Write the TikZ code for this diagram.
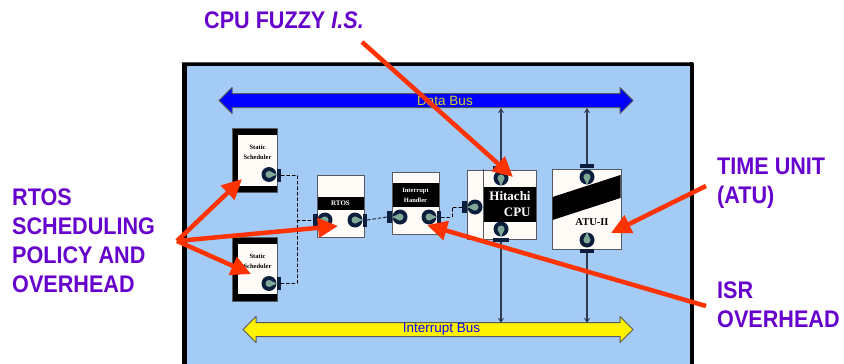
\documentclass[tikz,border=0pt]{standalone}
\usepackage{fontspec}
\setmainfont{Liberation Sans}
\newfontfamily\boxfont{Liberation Serif}
\newfontfamily\callfont[FakeStretch=0.9]{Liberation Sans}
\usetikzlibrary{arrows,arrows.meta}
\usetikzlibrary{shapes.arrows}
\definecolor{callpurple}{HTML}{6600CC}
\definecolor{callred}{HTML}{FF3300}
\definecolor{boardblue}{HTML}{A4CAF6}
\definecolor{boxwhite}{HTML}{FFFCF8}
\definecolor{portnavy}{HTML}{0B1E3E}
\definecolor{portgreen}{HTML}{7FA896}
\definecolor{edgegray}{HTML}{555A60}
\tikzset{
callout/.style={font=\callfont\bfseries\fontsize{24}{29}\selectfont,text=callpurple,anchor=west,inner sep=0pt},
callarrow/.style={-{Triangle[length=20pt,width=19pt]},draw=callred,fill=callred,line width=4.5pt,line cap=butt},
busarrow/.style={double arrow,draw=edgegray,line width=1pt,inner xsep=0pt,inner ysep=6.5pt,minimum width=25pt,double arrow head extend=6pt},
buslabel/.style={font=\fontsize{13.5}{14}\selectfont,inner sep=0pt},
buswire/.style={>={Stealth[length=5pt,width=6pt]},draw=portnavy!70!gray,line width=1.2pt},
sigwire/.style={dashed,dash pattern=on 3pt off 2.5pt,line width=0.8pt,draw=black},
blockbox/.style={draw=edgegray,fill=boxwhite,line width=1pt,inner sep=0pt},
band/.style={fill=black,text=white,inner sep=0pt,align=center,font=\boxfont\bfseries},
smalltext/.style={font=\boxfont\bfseries\fontsize{6.5}{10}\selectfont,align=center,inner sep=0pt},
portdisk/.style={circle,fill=portnavy,inner sep=0pt,minimum size=15pt},
portbar/.style={fill=portnavy,inner sep=0pt}
}
\newcommand{\portpin}[3]{
\node[portdisk] (#1) at (#2) {};
\fill[portgreen,shift={(#2)},rotate=#3] (-3.5,0) arc (180:0:3.5) -- (8,0) -- (3.5,0) arc (0:-180:3.5) -- cycle;
\fill[portgreen,shift={(#2)},rotate=#3] (0,-3.5) -- (8,0) -- (0,3.5) -- cycle;
}
\begin{document}
\begin{tikzpicture}[line cap=round,line join=round,>=triangle 45,x=1pt,y=-1pt]
\clip (0,0) rectangle (844,364);
% board
\node[draw=black,fill=boardblue,line width=4.5pt,minimum width=507.5pt,minimum height=312pt,inner sep=0pt] (board) at (438,220) {};
\draw[edgegray,line width=1pt] (board.north west) ++(0,1) -- ++(507.5,0);
% buses
\node[busarrow,fill=blue,minimum height=414pt] (databus) at (426,100.5) {};
\node[busarrow,fill=yellow,minimum height=390pt] (intbus) at (438,329.5) {};
\node[buslabel,text=yellow!85!black] (databustxt) at (445,100.5) {Data Bus};
\node[buslabel,text=blue] (intbustxt) at (441.5,329.5) {Interrupt Bus};
% schedulers
\node[draw=edgegray,fill=black,minimum width=45pt,minimum height=64pt,inner sep=0pt] (schedA) at (254.5,160) {};
\node[blockbox,draw=none,minimum width=39pt,minimum height=51pt] (schedAin) at (257.5,160.5) {};
\node[smalltext] (schedAtxt) at (257.5,152) {Static\\Scheduler};
\node[draw=edgegray,fill=black,minimum width=45pt,minimum height=64pt,inner sep=0pt] (schedB) at (254.5,269) {};
\node[blockbox,draw=none,minimum width=39pt,minimum height=50pt] (schedBin) at (257.5,269) {};
\node[smalltext] (schedBtxt) at (257.5,261) {Static\\Scheduler};
% rtos
\node[blockbox,minimum width=47pt,minimum height=62pt] (rtos) at (340.5,206) {};
\node[band,minimum width=46pt,minimum height=13pt,font=\boxfont\bfseries\fontsize{7}{8}\selectfont] (rtosband) at (340.5,203.5) {RTOS};
% interrupt handler
\node[blockbox,minimum width=47pt,minimum height=62pt] (inth) at (415.5,203) {};
\node[band,minimum width=46pt,minimum height=24pt,font=\boxfont\bfseries\fontsize{6.5}{10}\selectfont] (inthband) at (415.5,195) {Interrupt\\Handler};
% cpu
\node[blockbox,minimum width=69pt,minimum height=69pt] (cpu) at (501.5,204.5) {};
\draw[edgegray,line width=1pt] (cpu.north west) ++(17,0) -- ++(0,69);
\node[band,minimum width=52pt,minimum height=35pt,align=right,font=\boxfont\bfseries\fontsize{13}{16}\selectfont] (cpuband) at (510,204.5) {Hitachi\\CPU};
% atu
\node[blockbox,minimum width=69pt,minimum height=80pt] (atu) at (586.5,209) {};
\fill[black] (552.5,197) -- (620.5,175) -- (620.5,198) -- (552.5,220) -- cycle;
\node[font=\boxfont\bfseries\fontsize{10.5}{11}\selectfont,inner sep=0pt] (atulabel) at (592,222.5) {ATU-II};
% port bars
\node[portbar,minimum width=4pt,minimum height=13pt] (schedAbar) at (279,175) {};
\node[portbar,minimum width=4pt,minimum height=13pt] (schedBbar) at (279,283.5) {};
\node[portbar,minimum width=5pt,minimum height=12pt] (rtosinbar) at (315.5,220) {};
\node[portbar,minimum width=4pt,minimum height=13pt] (rtosoutbar) at (365,220) {};
\node[portbar,minimum width=5pt,minimum height=12pt] (inthinbar) at (389.5,217) {};
\node[portbar,minimum width=4pt,minimum height=13pt] (inthoutbar) at (439,217) {};
\node[portbar,minimum width=5pt,minimum height=12pt] (cpuinbar) at (464.5,207) {};
\node[portbar,minimum width=16pt,minimum height=4pt] (cputopbar) at (501,168) {};
\node[portbar,minimum width=16pt,minimum height=4pt] (cpubotbar) at (501,240) {};
\node[portbar,minimum width=14pt,minimum height=4pt] (atutopbar) at (587,166) {};
\node[portbar,minimum width=14pt,minimum height=4pt] (atubotbar) at (587,251) {};
% ports
\portpin{schedAport}{269,174.5}{0}
\portpin{schedBport}{269,283.5}{0}
\portpin{rtosinport}{325,220}{180}
\portpin{rtosoutport}{355,220}{0}
\portpin{inthinport}{400,217}{180}
\portpin{inthoutport}{429,217}{0}
\portpin{cpuinport}{475,207}{180}
\portpin{cputopport}{501,178}{-90}
\portpin{cpubotport}{501,229}{-90}
\portpin{atutopport}{587,177}{-90}
\portpin{atubotport}{587,240}{90}
% signal wires
\coordinate (joinA) at (297,175);
\coordinate (joinB) at (297,283.5);
\coordinate (joinC) at (297,220);
\coordinate (stepA) at (452,217);
\coordinate (stepB) at (452,207);
\draw[sigwire] (schedAbar.east) -- (joinA) -- (joinB) -- (schedBbar.east);
\draw[sigwire] (joinC) -- (rtosinbar.west);
\draw[sigwire] (rtosoutbar.east) -- (inthinbar.west);
\draw[sigwire] (inthoutbar.east) -- (stepA) -- (stepB) -- (cpuinbar.west);
% bus wires
\coordinate (cpudata) at (501,108);
\coordinate (atudata) at (587,108);
\coordinate (cpuint) at (501,323);
\coordinate (atuint) at (587,323);
\draw[buswire,<-] (cpudata) -- (cputopbar.north);
\draw[buswire,->] (cpubotbar.south) -- (cpuint);
\draw[buswire,<-] (atudata) -- (atutopbar.north);
\draw[buswire,->] (atubotbar.south) -- (atuint);
% callouts
\node[callout] (cpucall) at (204,20) {CPU FUZZY \textit{I.S.}};
\node[callout,align=left] (rtoscall) at (12,241) {RTOS\\SCHEDULING\\POLICY AND\\OVERHEAD};
\node[callout,align=left] (timecall) at (717,183) {TIME UNIT\\(ATU)};
\node[callout,align=left] (isrcall) at (717,304.5) {ISR\\OVERHEAD};
% red arrows
\coordinate (cpustart) at (362,42);
\coordinate (cputip) at (513,177);
\coordinate (fan) at (177,241);
\coordinate (fantipA) at (242,179);
\coordinate (fantipB) at (338,226);
\coordinate (fantipC) at (251,274);
\coordinate (atustart) at (706,186);
\coordinate (atutip) at (611,233);
\coordinate (isrstart) at (706,306);
\coordinate (isrtip) at (427,225);
\draw[callarrow] (cpustart) -- (cputip);
\draw[callarrow] (fan) -- (fantipA);
\draw[callarrow] (fan) -- (fantipB);
\draw[callarrow] (fan) -- (fantipC);
\draw[callarrow] (atustart) -- (atutip);
\draw[callarrow] (isrstart) -- (isrtip);
\end{tikzpicture}
\end{document}
